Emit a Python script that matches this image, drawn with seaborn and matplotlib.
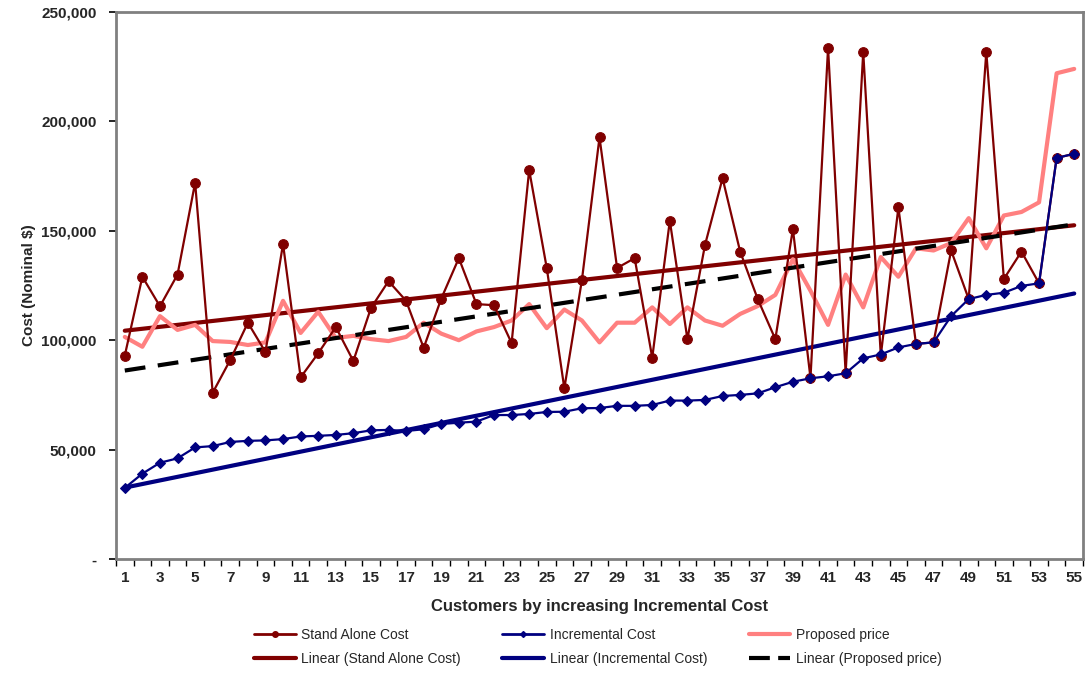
import matplotlib
matplotlib.use("Agg")
import matplotlib.pyplot as plt
import seaborn as sns
import numpy as np
import pandas as pd
from matplotlib.lines import Line2D
from matplotlib.ticker import FuncFormatter

customers = list(range(1, 56))

stand_alone = [93, 129, 115.5, 130, 172, 76, 91, 108, 94.6, 144,
               83, 94, 106, 90.5, 114.7, 127, 118, 96.5, 119, 137.5,
               116.5, 116, 98.7, 177.8, 133, 78, 127.5, 192.7, 133, 137.5,
               92, 154.6, 100.5, 143.5, 174, 140.5, 118.8, 100.5, 150.8, 82.7,
               233.6, 85, 231.7, 93, 160.7, 98.3, 99, 141, 118.8, 231.7,
               128, 140.5, 126, 183.3, 185.2]

incremental = [32.5, 39, 44, 46, 51, 51.6, 53.5, 54, 54.2, 54.8,
               56, 56.3, 56.7, 57.5, 58.8, 59, 58.5, 59.3, 61.7, 62.3,
               62.8, 65.8, 65.8, 66.3, 67.2, 67.3, 68.9, 69, 70, 70,
               70.4, 72.4, 72.4, 72.7, 74.5, 75, 75.7, 78.5, 81, 82.6,
               83.5, 84.9, 91.7, 93.5, 96.7, 98.3, 99, 111, 118.8, 120.7,
               121.7, 124.8, 126, 183.3, 185.2]

proposed = [101.5, 97, 111, 104.7, 107, 99.6, 99.2, 97.8, 99, 118,
            103.3, 113, 101, 102, 100.5, 99.6, 101.5, 108, 103, 100,
            104, 106, 109, 116.5, 105.5, 114, 109, 99, 108, 108,
            115, 107.4, 115, 109, 106.6, 112, 115.6, 120.7, 137, 122.6,
            107, 130, 115, 138, 129, 142, 141, 144.4, 155.8, 142,
            157, 158.6, 163, 222, 224]

df = pd.DataFrame({
    "customer": customers,
    "Stand Alone Cost": np.array(stand_alone) * 1000,
    "Incremental Cost": np.array(incremental) * 1000,
    "Proposed price": np.array(proposed) * 1000,
})

sns.set_theme(style="white")
plt.rcParams['font.family'] = ['Liberation Sans', 'DejaVu Sans']

fig = plt.figure(figsize=(10.91, 6.74), dpi=100)
ax = fig.add_axes([116/1091, 1 - 559/674, (1083-116)/1091, (559-12)/674])

RED = "#800000"
NAVY = "#000080"
PINK = "#FF8080"

# trend lines (drawn first, underneath)
sns.regplot(data=df, x="customer", y="Stand Alone Cost", scatter=False, ci=None,
            ax=ax, color=RED, line_kws=dict(lw=3, zorder=2))
sns.regplot(data=df, x="customer", y="Incremental Cost", scatter=False, ci=None,
            ax=ax, color=NAVY, line_kws=dict(lw=3, zorder=2))
sns.regplot(data=df, x="customer", y="Proposed price", scatter=False, ci=None,
            ax=ax, color="black", line_kws=dict(lw=3, ls=(0, (5, 3)), zorder=4))

sns.lineplot(data=df, x="customer", y="Proposed price", ax=ax, color=PINK, lw=3, zorder=3)
sns.lineplot(data=df, x="customer", y="Stand Alone Cost", ax=ax, color=RED, lw=1.6,
             marker="o", markersize=7, markeredgecolor=RED, zorder=5)
sns.lineplot(data=df, x="customer", y="Incremental Cost", ax=ax, color=NAVY, lw=1.6,
             marker="D", markersize=5.5, markeredgecolor=NAVY, zorder=6)

ax.set_xlim(0.5, 55.5)
ax.set_ylim(0, 250000)

ax.set_yticks(np.arange(0, 250001, 50000))
ax.yaxis.set_major_formatter(FuncFormatter(lambda v, p: "-" if v == 0 else f"{int(v):,}"))
ax.set_xticks(customers[::2])
ax.set_xticklabels([str(c) for c in customers[::2]])
ax.set_xticks(np.arange(0.5, 56, 1), minor=True)

ax.tick_params(axis="x", which="major", length=0, pad=9, labelsize=11)
ax.tick_params(axis="x", which="minor", length=5, width=1, color="black", direction="out", bottom=True)
ax.tick_params(axis="y", which="major", length=5, width=1.2, color="black", direction="out",
               left=True, labelsize=11, pad=9)
for lab in ax.get_xticklabels() + ax.get_yticklabels():
    lab.set_fontweight("bold")

for s in ["top", "right", "left", "bottom"]:
    ax.spines[s].set_color("#808080")
    ax.spines[s].set_linewidth(2)

ax.set_xlabel("Customers by increasing Incremental Cost", fontsize=12, fontweight="bold",
              labelpad=10)
ax.set_ylabel("Cost (Nominal $)", fontsize=11, fontweight="bold", labelpad=4)

handles = [
    Line2D([], [], color=RED, lw=2, marker="o", markersize=4),
    Line2D([], [], color=RED, lw=3),
    Line2D([], [], color=NAVY, lw=2, marker="D", markersize=3),
    Line2D([], [], color=NAVY, lw=3),
    Line2D([], [], color=PINK, lw=3),
    Line2D([], [], color="black", lw=3, ls=(0, (5, 2))),
]
labels = ["Stand Alone Cost", "Linear (Stand Alone Cost)",
          "Incremental Cost", "Linear (Incremental Cost)",
          "Proposed price", "Linear (Proposed price)"]
leg = fig.legend(handles, labels, ncol=3, loc="center", bbox_to_anchor=(0.548, 0.04),
                 frameon=False, handlelength=3, columnspacing=3,
                 labelspacing=0.7, handletextpad=0.4,
                 prop={'family': ['Liberation Sans', 'DejaVu Sans'], 'size': 10})

fig.savefig("out.png", dpi=100)
